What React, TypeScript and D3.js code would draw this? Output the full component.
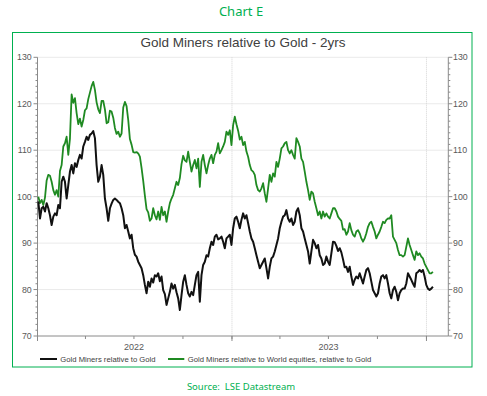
import React from "react";
import * as d3 from "d3";

// Sampling: first observation and spacing between observations (about every 3 days)
const FIRST_OBS = Date.UTC(2022, 0, 2, 13);
const STEP_MS = 75 * 3600 * 1000;

const X_DOMAIN = ["2022-01-01", "2024-02-11"];
const Y_DOMAIN = [70, 130];
const Y_TICKS = [70, 80, 90, 100, 110, 120, 130];
const YEAR_LABELS = ["2022", "2023"];
const YEAR_BOUNDS = ["2022-01-01", "2023-01-01", "2024-01-01"];

const TITLE = "Gold Miners relative to Gold - 2yrs";
const SERIES_NAMES = [
  "Gold Miners relative to Gold",
  "Gold Miners relative to World equities, relative to Gold",
];

const MINERS_VS_GOLD = [
  99.0, 95.3, 97.5, 97.8, 96.8, 98.6, 97.5, 96.0, 93.9, 95.7, 96.4, 96.0, 98.2, 97.5,
  103.2, 104.3, 103.2, 99.6, 102.5, 105.4, 106.8, 105.0, 107.2, 106.4, 107.9, 109.0, 108.2,
  110.8, 111.8, 112.9, 112.2, 113.3, 113.6, 114.1, 112.6, 106.8, 103.2, 104.3, 106.8, 104.7,
  99.6, 97.5, 94.8, 97.5, 98.5, 99.3, 99.6, 99.3, 98.9, 98.6, 97.5, 96.0, 93.2, 93.9, 92.5,
  91.0, 91.8, 88.9, 87.5, 87.1, 86.0, 85.3, 84.6, 83.1, 81.0, 79.2, 81.7, 80.6, 82.4, 81.5,
  83.1, 82.8, 83.5, 81.8, 82.8, 79.9, 79.0, 76.7, 78.1, 79.5, 81.3, 80.2, 81.0, 79.4, 78.1,
  75.6, 78.8, 81.7, 83.1, 81.0, 79.2, 78.5, 79.5, 78.8, 81.0, 83.1, 83.8, 77.4, 83.1, 85.3,
  86.0, 87.4, 87.1, 88.9, 90.3, 89.6, 91.4, 91.8, 90.8, 91.0, 91.4, 90.3, 88.9, 91.0, 91.4,
  91.8, 89.6, 93.2, 95.3, 95.7, 94.6, 93.2, 95.0, 96.4, 95.3, 96.0, 94.3, 92.5, 91.0, 90.3,
  88.9, 87.4, 86.0, 84.6, 85.3, 86.0, 86.7, 84.6, 82.4, 84.9, 86.7, 87.1, 88.2, 89.6, 91.0,
  93.2, 94.6, 95.7, 96.0, 97.1, 95.3, 94.6, 95.3, 93.9, 94.6, 96.8, 97.5, 96.0, 93.2, 92.5,
  91.0, 89.6, 88.2, 85.6, 88.2, 90.7, 90.0, 88.9, 89.6, 87.4, 86.7, 85.3, 85.6, 87.1, 86.0,
  85.3, 87.8, 90.3, 90.2, 89.4, 88.3, 88.9, 88.0, 86.5, 84.8, 84.9, 83.8, 84.9, 82.8, 81.0,
  82.1, 82.8, 82.4, 83.5, 82.4, 81.3, 82.8, 84.2, 84.6, 83.5, 81.7, 79.9, 79.2, 78.5, 79.2,
  81.3, 82.8, 83.1, 82.4, 83.1, 81.3, 79.2, 78.1, 79.9, 80.6, 79.5, 77.7, 79.2, 79.9, 80.2,
  80.2, 81.3, 83.5, 82.8, 82.1, 81.3, 80.6, 83.5, 83.8, 84.2, 83.8, 84.2, 82.8, 81.0, 80.2,
  79.9, 80.2, 80.6,
];

const MINERS_VS_WORLD_VS_GOLD = [
  100.0, 98.6, 99.3, 98.2, 99.8, 103.5, 104.7, 104.5, 103.2, 101.4, 100.4, 101.4, 100.0,
  105.5, 106.8, 110.8, 111.5, 112.9, 109.0, 112.5, 122.0, 120.2, 121.2, 118.0, 115.6, 116.8,
  115.1, 116.5, 118.6, 119.0, 121.0, 122.4, 123.8, 124.7, 123.0, 120.3, 118.8, 118.0, 120.6,
  120.6, 118.8, 115.8, 116.0, 118.5, 118.3, 117.0, 114.8, 113.5, 114.0, 112.9, 113.6, 119.2,
  120.4, 119.5, 116.5, 112.4, 111.2, 109.6, 109.5, 109.6, 109.3, 108.6, 106.2, 103.4, 100.2,
  97.3, 96.6, 94.8, 95.3, 97.5, 96.0, 95.1, 96.8, 95.0, 97.8, 96.0, 96.8, 94.6, 96.8, 98.6,
  99.6, 100.4, 101.8, 103.2, 102.5, 104.0, 107.0, 108.8, 107.8, 107.5, 109.7, 107.5, 105.4,
  106.8, 107.9, 106.1, 108.2, 102.1, 107.5, 109.0, 106.8, 105.0, 106.8, 108.2, 109.0, 107.2,
  109.0, 109.7, 111.5, 109.3, 110.0, 110.8, 111.8, 114.0, 113.3, 114.3, 111.1, 115.4, 117.2,
  115.6, 114.2, 112.3, 112.9, 111.1, 111.8, 109.7, 108.6, 106.8, 105.7, 105.4, 104.7, 102.5,
  101.4, 101.1, 101.8, 102.9, 100.7, 98.9, 101.8, 104.7, 103.2, 105.0, 104.3, 107.5, 106.4,
  108.2, 110.4, 110.8, 111.5, 111.8, 110.0, 109.3, 110.0, 109.0, 108.2, 112.6, 111.8, 110.8,
  108.2, 107.5, 105.4, 103.2, 101.4, 99.3, 101.1, 100.7, 98.9, 97.5, 96.0, 96.8, 95.3, 96.8,
  95.7, 96.4, 95.7, 95.3, 96.4, 97.5, 97.5, 96.8, 95.7, 95.2, 94.8, 92.9, 93.0, 91.8, 92.5,
  94.3, 92.8, 91.8, 91.4, 92.5, 92.8, 92.1, 91.0, 90.3, 91.0, 92.1, 93.5, 94.3, 94.6, 93.5,
  92.5, 91.0, 91.8, 92.5, 93.5, 94.6, 94.3, 95.0, 95.3, 95.3, 96.0, 91.4, 90.7, 90.0, 88.5,
  87.4, 87.4, 87.1, 87.4, 89.2, 91.0, 89.6, 88.5, 87.4, 86.4, 88.2, 87.4, 87.8, 87.1, 86.7,
  85.6, 84.9, 84.2, 83.5, 83.5, 83.8,
];

const BLACK = "#111111";
const GREEN = "#1f8a22";
const FRAME = "#00b050";
const AXIS = "#8a8a8a";
const TEXT = "#404040";

const PLOT = { left: 37.5, right: 448.3, top: 57.3, bottom: 336 };

export default function App() {
  const x = d3
    .scaleUtc()
    .domain(X_DOMAIN.map((s) => new Date(s + "T00:00:00Z")))
    .range([PLOT.left, PLOT.right]);
  const y = d3.scaleLinear().domain(Y_DOMAIN).range([PLOT.bottom, PLOT.top]);

  const dateAt = (i: number) => new Date(FIRST_OBS + i * STEP_MS);
  const line = d3
    .line<number>()
    .x((_, i) => x(dateAt(i)))
    .y((v) => y(v));

  const yMinor = d3.range(Y_DOMAIN[0], Y_DOMAIN[1] + 0.001, 1.25).filter((v) => Math.abs(v % 10) > 0.01);
  const quarters = d3.utcMonth
    .every(3)!
    .range(new Date("2022-01-01T00:00:00Z"), new Date("2024-02-11T00:00:00Z"));
  const yearBounds = YEAR_BOUNDS.map((s) => new Date(s + "T00:00:00Z"));
  const labelDates = YEAR_LABELS.map((s) => new Date(s + "-07-01T00:00:00Z"));

  const font = "'Liberation Sans', Arial, sans-serif";

  return (
    <svg
      width={487}
      height={396}
      style={{ position: "absolute", left: 0, top: 0, background: "#fff" }}
      fontFamily={font}
    >
      <rect x={0} y={0} width={487} height={396} fill="#fff" />
      <text x={241} y={15.5} textAnchor="middle" fill={FRAME} fontSize={13} fontFamily="'Noto Sans', sans-serif">
        Chart E
      </text>
      <rect x={12.5} y={32.5} width={459.5} height={334.5} fill="none" stroke={FRAME} strokeWidth={1} />
      <text x={243} y={46.8} textAnchor="middle" fill={TEXT} fontSize={13.5}>
        {TITLE}
      </text>

      {/* horizontal gridlines */}
      {Y_TICKS.filter((v) => v > Y_DOMAIN[0]).map((v) => (
        <line
          key={"hg" + v}
          x1={PLOT.left}
          x2={PLOT.right}
          y1={y(v)}
          y2={y(v)}
          stroke="#d4d4d4"
          strokeDasharray="1,1"
        />
      ))}
      {/* vertical gridlines */}
      {yearBounds.slice(1).map((d, i) => (
        <line
          key={"vg" + i}
          x1={x(d)}
          x2={x(d)}
          y1={PLOT.top}
          y2={PLOT.bottom}
          stroke="#d4d4d4"
          strokeDasharray="1,1"
        />
      ))}

      {/* axes */}
      <line x1={PLOT.left} x2={PLOT.left} y1={PLOT.top} y2={PLOT.bottom} stroke={AXIS} />
      <line x1={PLOT.right} x2={PLOT.right} y1={PLOT.top} y2={PLOT.bottom} stroke={AXIS} />
      <line x1={PLOT.left} x2={PLOT.right} y1={PLOT.bottom} y2={PLOT.bottom} stroke={AXIS} />

      {yMinor.map((v) => (
        <g key={"ym" + v}>
          <line x1={PLOT.left - 2} x2={PLOT.left} y1={y(v)} y2={y(v)} stroke={AXIS} />
          <line x1={PLOT.right} x2={PLOT.right + 2} y1={y(v)} y2={y(v)} stroke={AXIS} />
        </g>
      ))}
      {Y_TICKS.map((v) => (
        <g key={"yt" + v}>
          <line x1={PLOT.left - 4} x2={PLOT.left} y1={y(v)} y2={y(v)} stroke={AXIS} />
          <line x1={PLOT.right} x2={PLOT.right + 4} y1={y(v)} y2={y(v)} stroke={AXIS} />
          <text x={31.7} y={y(v)} dy="0.35em" textAnchor="end" fontSize={8.8} fill="#595959">
            {v}
          </text>
          <text x={453} y={y(v)} dy="0.35em" textAnchor="start" fontSize={8.8} fill="#595959">
            {v}
          </text>
        </g>
      ))}

      {quarters.map((d, i) => (
        <line key={"xq" + i} x1={x(d)} x2={x(d)} y1={PLOT.bottom} y2={PLOT.bottom + 3} stroke={AXIS} />
      ))}
      {yearBounds.map((d, i) => (
        <line key={"xy" + i} x1={x(d)} x2={x(d)} y1={PLOT.bottom} y2={PLOT.bottom + 5} stroke={AXIS} />
      ))}
      {labelDates.map((d, i) => (
        <text key={"xl" + i} x={x(d)} y={349.5} textAnchor="middle" fontSize={9} fill="#595959">
          {YEAR_LABELS[i]}
        </text>
      ))}

      {/* series */}
      <path d={line(MINERS_VS_WORLD_VS_GOLD) || ""} fill="none" stroke={GREEN} strokeWidth={1.8} strokeLinejoin="round" />
      <path d={line(MINERS_VS_GOLD) || ""} fill="none" stroke={BLACK} strokeWidth={2} strokeLinejoin="round" />

      {/* legend */}
      <line x1={40} x2={57} y1={359} y2={359} stroke={BLACK} strokeWidth={2} />
      <text x={60.3} y={361.7} fontSize={7.7} fill={TEXT}>
        {SERIES_NAMES[0]}
      </text>
      <line x1={168} x2={184.3} y1={359} y2={359} stroke={GREEN} strokeWidth={2} />
      <text x={187.7} y={361.7} fontSize={7.7} fill={TEXT}>
        {SERIES_NAMES[1]}
      </text>

      <text
        x={241}
        y={390}
        textAnchor="middle"
        fill={FRAME}
        fontSize={9.5}
        fontFamily="'Noto Sans', sans-serif"
        style={{ whiteSpace: "pre" }}
      >
        {"Source:  LSE Datastream"}
      </text>
    </svg>
  );
}
